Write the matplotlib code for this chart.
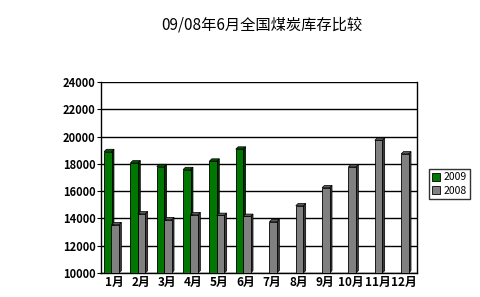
import matplotlib.pyplot as plt
from matplotlib.patches import Patch
import numpy as np

plt.rcParams['font.family'] = ['Noto Sans CJK SC', 'DejaVu Sans']

months = ['1月', '2月', '3月', '4月', '5月', '6月', '7月', '8月', '9月', '10月', '11月', '12月']
stock_2009 = [18900, 18070, 17800, 17580, 18200, 19080]
stock_2008 = [13540, 14340, 13900, 14270, 14220, 14150, 13760, 14930, 16250, 17780, 19730, 18730]

green, green_dark, green_top = '#007700', '#003300', '#005500'
gray, gray_dark, gray_top = '#808080', '#3a3a3a', '#5a5a5a'

fig = plt.figure(figsize=(4.81, 2.97), dpi=100)
ax = fig.add_axes([101 / 481, 24 / 297, 316 / 481, 191 / 297])

bw = 0.285
dx, dy = 0.09, 170  # fake 3D depth
base = 10000
x = np.arange(len(months))
x9 = x[:len(stock_2009)]


def bar3d(xs, vals, front, side, top, z):
    for xc, v in zip(xs, vals):
        x0, x1 = xc - bw / 2, xc + bw / 2
        ax.fill([x1, x1 + dx, x1 + dx, x1], [base, base + dy, v + dy, v],
                facecolor=side, edgecolor='black', linewidth=0.5, zorder=z)
        ax.fill([x0, x0 + dx, x1 + dx, x1], [v, v + dy, v + dy, v],
                facecolor=top, edgecolor='black', linewidth=0.5, zorder=z)
    ax.bar(xs, np.array(vals) - base, bw, bottom=base, color=front,
           edgecolor='black', linewidth=0.6, zorder=z + 1)


bar3d(x9 - 0.24, stock_2009, green, green_dark, green_top, 3)
bar3d(x + 0.04, stock_2008, gray, gray_dark, gray_top, 5)

ax.set_xlim(-0.5, len(months) - 0.5)
ax.set_ylim(10000, 24000)
ax.set_yticks(range(10000, 24001, 2000))
ax.yaxis.grid(True, color='black', linewidth=1)
ax.set_axisbelow(True)
ax.set_xticks(x)
ax.set_xticklabels(months, fontsize=8.5, fontweight='bold')
for lab in ax.get_yticklabels():
    lab.set_fontsize(8)
    lab.set_fontweight('bold')
ax.tick_params(axis='x', length=0, pad=2)
ax.tick_params(axis='y', length=3, width=0.8, pad=1)
ax.spines['top'].set_visible(False)
for s in ['left', 'right', 'bottom']:
    ax.spines[s].set_linewidth(1)

fig.suptitle('09/08年6月全国煤炭库存比较', fontsize=11, x=262 / 481, y=1 - 25 / 297, va='center')

handles = [Patch(facecolor=green, edgecolor='black', linewidth=0.6, label='2009'),
           Patch(facecolor=gray, edgecolor='black', linewidth=0.6, label='2008')]
fig.legend(handles=handles, loc='center left', bbox_to_anchor=(429 / 481, 1 - 184 / 297),
           fontsize=7.5, frameon=True, fancybox=False, edgecolor='black',
           handlelength=0.8, handleheight=0.8, handletextpad=0.3,
           borderpad=0.3, labelspacing=0.3, borderaxespad=0)

fig.savefig('out.png', dpi=100)
